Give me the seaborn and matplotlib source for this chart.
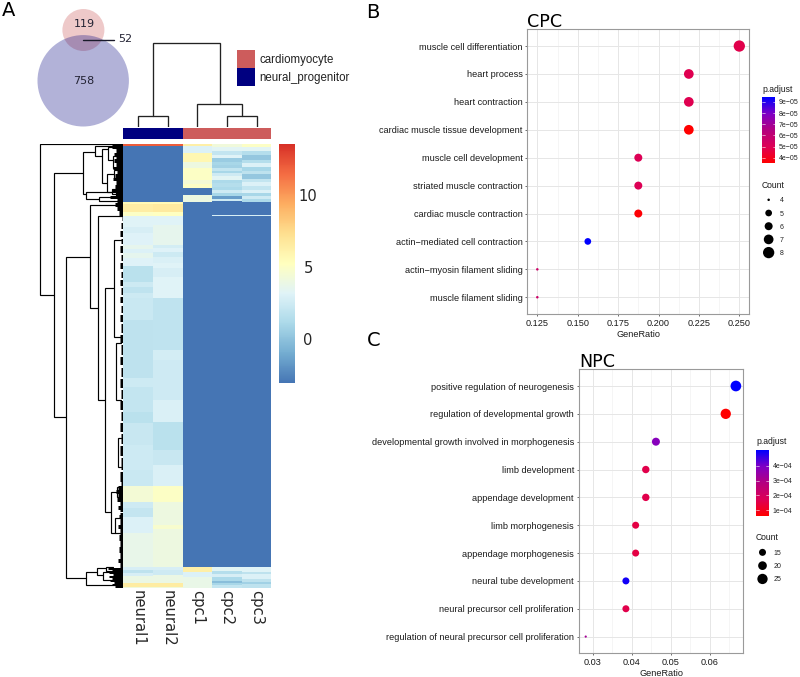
"""
Venn diagram, expression heatmap with dendrograms and two GO dotplots.
Values are read off the reference figure.
"""

import numpy as np
import pandas as pd
import matplotlib

matplotlib.use("Agg")
import matplotlib.pyplot as plt
import seaborn as sns
from matplotlib.cm import ScalarMappable
from matplotlib.colors import LinearSegmentedColormap, ListedColormap, Normalize
from matplotlib.patches import Circle, Rectangle
from matplotlib.ticker import AutoMinorLocator

W, H = 800, 677
SANS = ["Liberation Sans", "DejaVu Sans"]
DEJAVU = "DejaVu Sans"

# Venn counts
ONLY_CPC = 119
SHARED = 52
ONLY_NPC = 758

# Heatmap columns, as runs of (end row, value) from top to bottom
SAMPLES = ["neural1", "neural2", "cpc1", "cpc2", "cpc3"]
SAMPLE_GROUP = [0, 0, 1, 1, 1]
LOW = -3.05
HIGH = 13.5
NEURAL1 = [(2, 12), (58, LOW), (60, 5.6), (68, 6.4), (72, 5.0), (83, 3.2), (89, 2.8), (101, 3.1),
           (105, 3.6), (109, 3.0), (114, 3.5), (122, 3.1), (138, 1.7), (143, 2.4), (149, 1.9),
           (154, 2.4), (176, 2.3), (234, 1.8), (243, 2.4), (268, 2.0), (279, 1.7), (301, 2.2),
           (326, 2.4), (342, 2.3), (358, 4.4), (364, 2.5), (373, 2.1), (389, 3.0), (423, 3.7),
           (426, 2.8), (429, 1.8), (432, 2.8), (439, 3.9), (443, 6.5), (444, 4.2)]
NEURAL2 = [(2, 12), (58, LOW), (60, 5.6), (68, 6.6), (72, 5.2), (81, 3.2), (101, 3.6), (104, 2.7),
           (108, 3.1), (113, 2.4), (119, 2.9), (124, 3.2), (133, 2.8), (154, 3.2), (206, 1.9),
           (216, 2.7), (256, 2.5), (278, 2.9), (306, 1.7), (321, 2.2), (342, 2.9), (358, 5.0),
           (381, 4.0), (385, 4.7), (423, 4.0), (426, 2.8), (431, 2.5), (439, 3.9), (443, 6.5),
           (444, 4.2)]
CPC1 = [(2, 6.3), (9, 3.0), (18, 5.8), (24, 4.0), (36, 5.0), (40, 4.4), (44, 5.0), (51, LOW),
        (58, 4.0), (423, LOW), (428, 6.3), (433, 3.0), (444, 3.8)]
CPC2 = [(3, 4.2), (7, 3.3), (11, 2.0), (14, 3.2), (18, 0.5), (21, 1.0), (24, 0.8), (27, 2.0),
        (29, 1.0), (32, 2.5), (36, 3.3), (39, 1.2), (43, 1.5), (46, 1.2), (49, 2.5), (52, 1.0),
        (55, -1.5), (57, 2.5), (71, LOW), (72, 2.8), (423, LOW), (427, 3.3), (430, 1.5),
        (433, 2.8), (437, 1.2), (439, -0.2), (441, 1.0), (444, 2.0)]
CPC3 = [(3, 5.0), (7, 3.3), (11, 1.5), (16, 0.3), (19, 1.5), (23, 3.0), (27, 1.0), (30, 1.8),
        (35, 0.3), (38, 2.0), (42, 3.0), (46, 2.0), (49, 3.0), (52, 1.0), (55, 2.5), (58, 1.2),
        (71, LOW), (72, 2.8), (423, LOW), (428, 3.2), (430, 1.8), (435, 3.0), (438, 1.8),
        (440, 0.7), (444, 1.8)]

# Dendrograms: (merge height, top position, top child height, bottom position, bottom child height)
ROW_LINKS = [
    (83.6, 0.3, 0, 151, 69), (69, 28.7, 40, 273.3, 57.6), (40, 7.7, 28.6, 50, 37.3),
    (28.6, 2, 8, 12, 21.6), (21.6, 5.3, 15, 39, 16), (15, 3, 7, 16, 10), (16, 30, 9, 48, 7),
    (10, 12, 5, 24, 6), (9, 26, 4, 34, 5), (7, 42, 4, 52, 4), (8, 1, 4, 4, 5),
    (37.3, 47.7, 11, 55, 24), (24, 53, 10, 57, 3), (11, 45, 6, 50, 7),
    (57.6, 112.7, 33.3, 434, 37.6), (33.3, 61, 5, 164.3, 25.6), (25.6, 71.7, 1, 256, 18),
    (18, 144.3, 9.3, 368.3, 12.6), (9.3, 96, 2, 193, 2), (7.3, 199, 2, 256, 2),
    (12.6, 347.7, 6.6, 388.7, 7.8), (6.6, 343, 2, 353, 2), (7.8, 374, 3, 389, 3),
    (5.3, 294, 2, 323, 2), (37.6, 427.7, 26.3, 441, 0), (26.3, 424, 17, 431, 20),
    (20, 428, 9, 436, 9), (17, 423, 10, 427, 10),
]
# Column leaves sit at 0..4
COL_LINKS = [
    (84, 0.5, 10.7, 2.75, 23), (10.7, 0, 0, 1, 0),
    (23, 2, 0, 3.5, 10.7), (10.7, 3, 0, 4, 0),
]
# Fine leaf branches next to the heatmap: runs of (end row, reach)
LEAF_REACH = [
    (4, 11), (8, 7), (11, 9), (14, 7), (18, 9), (22, 7), (25, 10), (29, 6), (33, 8), (36, 10),
    (40, 7), (44, 8), (48, 11), (51, 7), (54, 13), (58, 6), (62, 8), (66, 6), (71, 4),
    (76, 1.5), (78, 0), (84, 2), (86, 0), (92, 3), (94, 0), (99, 2), (101, 0), (108, 3),
    (110, 0), (116, 2), (118, 0), (124, 3.5), (127, 0), (133, 2), (135, 0), (141, 3),
    (143, 0), (150, 2), (152, 0), (158, 3), (161, 0), (168, 2), (170, 0), (177, 3),
    (179, 0), (188, 2), (190, 0), (198, 3), (200, 0), (210, 2), (212, 0), (220, 3),
    (223, 0), (232, 2), (234, 0), (243, 3), (245, 0), (254, 2), (257, 0), (266, 3),
    (268, 0), (277, 2), (279, 0), (288, 3), (290, 0), (300, 2), (302, 0), (312, 3),
    (314, 0), (326, 2), (328, 0), (338, 3), (342, 2),
    (346, 5), (350, 7), (354, 5), (358, 6), (362, 3), (366, 5), (370, 3), (374, 4),
    (380, 3), (384, 5), (390, 3), (396, 4), (402, 3), (408, 4), (414, 3), (418, 5), (423, 3),
    (425, 15), (427, 11), (429, 14), (431, 10), (433, 14), (435, 11), (437, 13), (439, 9),
    (441, 11), (444, 8),
]

# Dotplot CPC
CPC_TERMS = ["muscle cell differentiation", "heart process", "heart contraction",
             "cardiac muscle tissue development", "muscle cell development",
             "striated muscle contraction", "cardiac muscle contraction",
             "actin\u2212mediated cell contraction", "actin\u2212myosin filament sliding",
             "muscle filament sliding"]
CPC_RATIO = [0.25, 0.21875, 0.21875, 0.21875, 0.1875, 0.1875, 0.1875, 0.15625, 0.125, 0.125]
CPC_COUNT = [8, 7, 7, 7, 6, 6, 6, 5, 4, 4]
CPC_PADJ = [4.8e-5, 4.9e-5, 4.9e-5, 3.5e-5, 5.0e-5, 5.0e-5, 3.6e-5, 9.4e-5, 5.6e-5, 5.6e-5]
CPC_SIZES = {4: 2.5, 5: 6.7, 6: 8.0, 7: 9.7, 8: 11.3}
CPC_TICKS = [0.125, 0.150, 0.175, 0.200, 0.225, 0.250]
CPC_LEGEND_P = [4e-5, 5e-5, 6e-5, 7e-5, 8e-5, 9e-5]
CPC_LEGEND_N = [4, 5, 6, 7, 8]

# Dotplot NPC
NPC_TERMS = ["positive regulation of neurogenesis", "regulation of developmental growth",
             "developmental growth involved in morphogenesis", "limb development",
             "appendage development", "limb morphogenesis", "appendage morphogenesis",
             "neural tube development", "neural precursor cell proliferation",
             "regulation of neural precursor cell proliferation"]
NPC_RATIO = [0.0667, 0.0641, 0.0462, 0.0436, 0.0436, 0.0410, 0.0410, 0.0385, 0.0385, 0.0282]
NPC_COUNT = [26, 25, 18, 17, 17, 16, 16, 15, 15, 11]
NPC_PADJ = [5.06e-4, 0.62e-4, 3.8e-4, 1.6e-4, 1.6e-4, 1.5e-4, 1.5e-4, 4.9e-4, 1.6e-4, 3.2e-4]
NPC_SIZES = {11: 2.2, 15: 7.0, 16: 7.0, 17: 7.4, 18: 8.0, 20: 8.7, 25: 10.3, 26: 10.7}
NPC_TICKS = [0.03, 0.04, 0.05, 0.06]
NPC_LEGEND_P = [1e-4, 2e-4, 3e-4, 4e-4]
NPC_LEGEND_N = [15, 20, 25]

HEAT_CMAP = LinearSegmentedColormap.from_list(
    "heat", ["#4575b4", "#74add1", "#abd9e9", "#e0f3f8", "#ffffbf",
             "#fee090", "#fdae61", "#f46d43", "#d73027"])
P_CMAP = LinearSegmentedColormap.from_list(
    "padj", ["#FF0000", "#DD0055", "#B4007F", "#8000C4", "#0000FF"])


def px_axes(fig, left, top, right, bottom, **kwargs):
    """Add an axes given its box in pixels from the top left of the figure."""
    return fig.add_axes([left / W, 1 - bottom / H, (right - left) / W, (bottom - top) / H], **kwargs)


def expand(runs):
    """Turn (end row, value) runs into one value per row."""
    ends = [r[0] for r in runs]
    vals = [r[1] for r in runs]
    return np.repeat(vals, np.diff([0] + ends))


def draw_links(ax, links, horizontal):
    """Draw dendrogram merges as three-sided brackets."""
    for h, p0, h0, p1, h1 in links:
        xs = [h0, h, h, h1]
        ys = [p0, p0, p1, p1]
        if horizontal:
            ax.plot(xs, ys, color="black", lw=0.85, solid_joinstyle="miter")
        else:
            ax.plot(ys, xs, color="#222222", lw=0.95, solid_joinstyle="miter")


def pt_area(sizes):
    """Marker diameters in pixels to matplotlib areas."""
    return {k: (d * 0.72) ** 2 for k, d in sizes.items()}


def dotplot(ax, terms, ratio, count, padj, sizes, ticks, fmt, xlim, norm):
    df = pd.DataFrame({"term": terms, "GeneRatio": ratio, "Count": count, "padj": padj})
    sns.scatterplot(data=df, x="GeneRatio", y="term", hue="padj", hue_norm=norm, palette=P_CMAP,
                    size="Count", sizes=pt_area(sizes), linewidth=0, legend=False, ax=ax, zorder=3)
    ax.set_xlim(*xlim)
    ax.set_ylim(9.6, -0.6)
    ax.set_xticks(ticks)
    ax.set_xticklabels([fmt.format(t) for t in ticks])
    ax.xaxis.set_minor_locator(AutoMinorLocator(2))
    ax.grid(True, which="major", color="#E6E6E6", lw=0.7)
    ax.grid(True, which="minor", axis="x", color="#F0F0F0", lw=0.45)
    ax.set_axisbelow(True)
    ax.tick_params(axis="both", which="major", labelsize=6.6, length=1.6, width=0.5, pad=1.8,
                   color="#333333", labelcolor="#1a1a1a", bottom=True, left=True)
    ax.tick_params(axis="x", which="minor", length=0)
    ax.set_ylabel("")
    ax.set_xlabel("GeneRatio", fontsize=6.6, color="#1a1a1a", labelpad=1.5)
    for s in ax.spines.values():
        s.set_visible(True)
        s.set_color("#9a9a9a")
        s.set_linewidth(0.8)


def p_legend(fig, overlay, box, title_y, values, norm):
    left, top, right, bottom = box
    cax = px_axes(fig, left, top, right, bottom)
    cb = fig.colorbar(ScalarMappable(norm=norm, cmap=P_CMAP), cax=cax)
    cb.outline.set_visible(False)
    cb.set_ticks(values)
    cb.set_ticklabels([f"{v:.0e}".replace("-", "\u2212") for v in values])
    cax.tick_params(length=0, labelsize=5, pad=2.5, labelcolor="#222222")
    for v in values:
        cax.plot([0, 0.2], [v, v], color="white", lw=0.4, transform=cax.get_yaxis_transform())
        cax.plot([0.8, 1], [v, v], color="white", lw=0.4, transform=cax.get_yaxis_transform())
    overlay.text(left, title_y, "p.adjust", fontsize=6.2, va="center", ha="left", color="#1a1a1a")


def count_legend(fig, overlay, box, title_y, title_x, values, sizes):
    ax = px_axes(fig, *box)
    df = pd.DataFrame({"slot": range(len(values)), "Count": values, "x": 0})
    sns.scatterplot(data=df, x="x", y="slot", size="Count", sizes=pt_area(sizes), color="black",
                    linewidth=0, legend=False, ax=ax)
    ax.set_xlim(-1, 1)
    ax.set_ylim(len(values) - 0.5, -0.5)
    ax.set_xticks([])
    ax.set_xlabel("")
    ax.set_ylabel("")
    ax.yaxis.tick_right()
    ax.set_yticks(range(len(values)))
    ax.set_yticklabels(values)
    ax.tick_params(axis="y", length=0, labelsize=5, pad=3.2, labelcolor="#222222")
    ax.patch.set_alpha(0)
    for s in ax.spines.values():
        s.set_visible(False)
    overlay.text(title_x, title_y, "Count", fontsize=6.2, va="center", ha="left", color="#1a1a1a")


def main():
    sns.set_style("white")
    plt.rcParams["font.family"] = SANS

    fig = plt.figure(figsize=(W / 100, H / 100), dpi=100)

    # Overlay in pixel units for the venn diagram, panel letters and legend text
    overlay = fig.add_axes([0, 0, 1, 1], zorder=5)
    overlay.set_xlim(0, W)
    overlay.set_ylim(H, 0)
    overlay.axis("off")
    overlay.patch.set_alpha(0)

    for letter, x, y in [("A", 2, 11), ("B", 366, 12), ("C", 367, 340)]:
        overlay.text(x, y, letter, fontsize=14, family=DEJAVU, va="center", ha="left", color="black")

    # Venn: circle areas follow the set sizes
    scale = 21 / np.sqrt(ONLY_CPC + SHARED)
    overlay.add_patch(Circle((83.4, 30), scale * np.sqrt(ONLY_CPC + SHARED), fc="indianred", alpha=0.33, lw=0))
    overlay.add_patch(Circle((83.2, 80.8), scale * np.sqrt(ONLY_NPC + SHARED), fc="navy", alpha=0.3, lw=0))
    overlay.plot([83, 114], [40, 40], color="#1a1a2a", lw=1)
    venn_font = dict(fontsize=8, family=DEJAVU, va="center", color="#222233")
    overlay.text(84, 24, str(ONLY_CPC), ha="center", **venn_font)
    overlay.text(84, 81, str(ONLY_NPC), ha="center", **venn_font)
    overlay.text(118.5, 39.5, str(SHARED), ha="left", **venn_font)

    # Group legend
    for label, color, y0 in [("cardiomyocyte", "indianred", 50), ("neural_progenitor", "navy", 68)]:
        overlay.add_patch(Rectangle((237.3, y0), 18, 18, fc=color, lw=0))
        overlay.text(259, y0 + 9.5, label, fontsize=8.3, va="center", ha="left", color="#222222")

    # Heatmap
    matrix = np.column_stack([expand(c) for c in (NEURAL1, NEURAL2, CPC1, CPC2, CPC3)])
    table = pd.DataFrame(matrix, columns=SAMPLES)
    heat_ax = px_axes(fig, 123.3, 144, 271.3, 588.3)
    cbar_ax = px_axes(fig, 279.3, 144, 295, 383.3)
    sns.heatmap(table, cmap=HEAT_CMAP, vmin=LOW, vmax=HIGH, ax=heat_ax, cbar_ax=cbar_ax,
                yticklabels=False, xticklabels=SAMPLES, linewidths=0, rasterized=True)
    heat_ax.tick_params(axis="x", length=0, labelsize=10.6, pad=1.5)
    plt.setp(heat_ax.get_xticklabels(), rotation=270, family=DEJAVU, va="top", ha="center")

    cbar_ax.set_yticks([0, 5, 10])
    cbar_ax.set_yticklabels(["0", "5", "10"])
    cbar_ax.tick_params(length=0, labelsize=10.6, pad=9.4)
    plt.setp(cbar_ax.get_yticklabels(), family=DEJAVU, ha="center")
    for s in cbar_ax.spines.values():
        s.set_visible(False)

    # Column colours
    group_ax = px_axes(fig, 123.3, 128, 271.3, 139.3)
    sns.heatmap(np.array([SAMPLE_GROUP]), cmap=ListedColormap(["navy", "indianred"]), cbar=False,
                ax=group_ax, xticklabels=False, yticklabels=False)

    # Column dendrogram
    col_ax = px_axes(fig, 123.3, 41.7, 271.3, 126.7)
    draw_links(col_ax, COL_LINKS, horizontal=False)
    col_ax.set_xlim(-0.5, 4.5)
    col_ax.set_ylim(0, 85)
    col_ax.axis("off")

    # Row dendrogram
    row_ax = px_axes(fig, 38.3, 144, 123.3, 588.3)
    reach = expand(LEAF_REACH)
    rows = np.arange(len(reach)) + 0.5
    keep = reach > 0
    row_ax.hlines(rows[keep], 0, reach[keep], color="black", lw=0.72)
    draw_links(row_ax, ROW_LINKS, horizontal=True)
    row_ax.set_xlim(85, 0)
    row_ax.set_ylim(444.3, 0)
    row_ax.axis("off")

    # Dotplots
    cpc_norm = Normalize(3.5e-5, 9.42e-5)
    npc_norm = Normalize(0.62e-4, 5.06e-4)

    cpc_ax = px_axes(fig, 527.3, 29.3, 749, 314)
    dotplot(cpc_ax, CPC_TERMS, CPC_RATIO, CPC_COUNT, CPC_PADJ, CPC_SIZES, CPC_TICKS, "{:.3f}",
            (0.1188, 0.256), cpc_norm)
    overlay.text(527, 27, "CPC", fontsize=12.6, family=DEJAVU, va="baseline", ha="left", color="black")

    npc_ax = px_axes(fig, 578.7, 369.3, 743.3, 653.3)
    dotplot(npc_ax, NPC_TERMS, NPC_RATIO, NPC_COUNT, NPC_PADJ, NPC_SIZES, NPC_TICKS, "{:.2f}",
            (0.0264, 0.0686), npc_norm)
    overlay.text(579, 366.7, "NPC", fontsize=12.6, family=DEJAVU, va="baseline", ha="left", color="black")

    # Dotplot legends
    p_legend(fig, overlay, (762, 97.3, 775.3, 163.3), 89, CPC_LEGEND_P, cpc_norm)
    count_legend(fig, overlay, (762, 193.2, 775.3, 259.2), 185, 762, CPC_LEGEND_N, CPC_SIZES)
    p_legend(fig, overlay, (756, 450, 769, 516), 442, NPC_LEGEND_P, npc_norm)
    count_legend(fig, overlay, (756, 545.7, 769, 585.6), 537.3, 756, NPC_LEGEND_N, NPC_SIZES)

    fig.savefig("out.png", dpi=100)
    plt.close(fig)


if __name__ == "__main__":
    main()
